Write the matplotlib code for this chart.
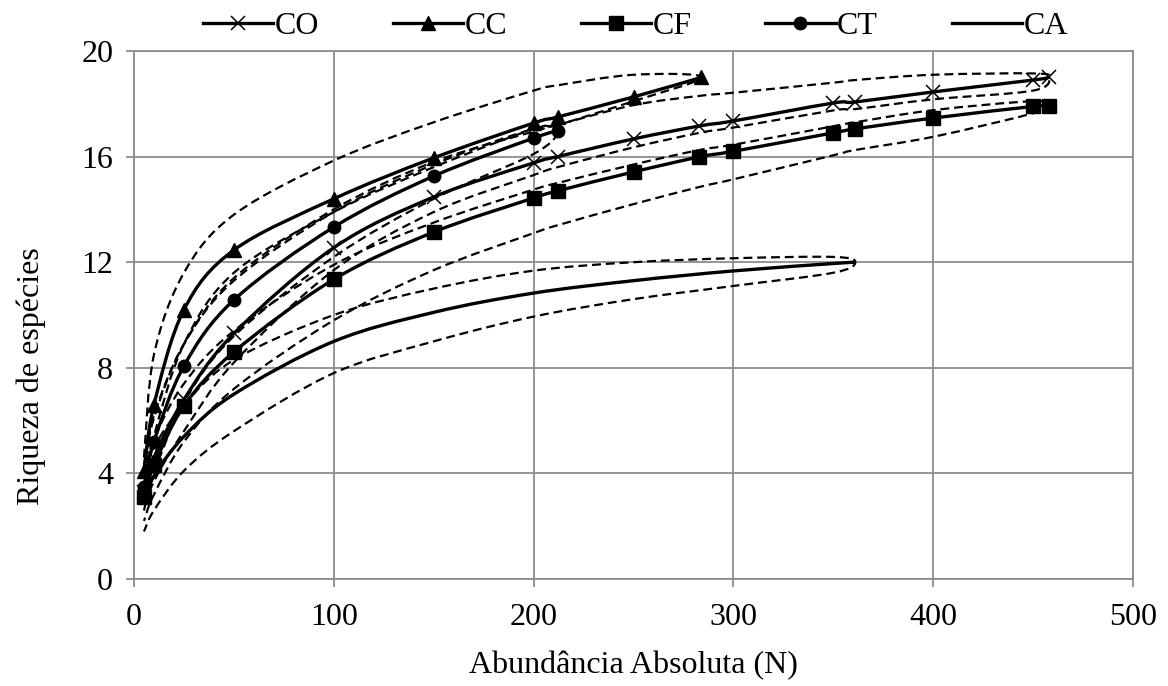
import numpy as np
import matplotlib
matplotlib.use("Agg")
import matplotlib.pyplot as plt
from matplotlib.path import Path
from matplotlib.patches import PathPatch
from matplotlib.lines import Line2D

plt.rcParams['font.family'] = ['Liberation Serif', 'DejaVu Serif']

# ---------------- data ----------------
CO_x = [5, 10, 25, 50, 100, 150, 200, 212, 250, 283, 300, 350, 361, 400, 450, 458]
CO_y = [3.3, 4.6, 6.8, 9.3, 12.55, 14.47, 15.76, 16.0, 16.67, 17.16, 17.35, 18.03, 18.07, 18.45, 18.9, 19.0]
CO_upper = [4.3, 6.2, 8.9, 11.4, 14.0, 15.8, 16.95, 17.2, 17.95, 18.3, 18.42, 18.8, 18.9, 19.1, 19.15]
CO_lower = [2.6, 3.7, 5.6, 8.2, 11.7, 13.9, 15.3, 15.6, 16.35, 16.9, 17.1, 17.75, 17.8, 18.17, 18.5]

CF_x = [5, 10, 25, 50, 100, 150, 200, 212, 250, 283, 300, 350, 361, 400, 450, 458]
CF_y = [3.1, 4.3, 6.55, 8.6, 11.35, 13.14, 14.43, 14.7, 15.42, 15.99, 16.2, 16.9, 17.05, 17.46, 17.9, 17.93]
CF_upper = [3.9, 5.3, 7.4, 9.4, 11.9, 13.5, 14.75, 15.0, 15.7, 16.25, 16.45, 17.15, 17.3, 17.76, 18.1]
CF_lower = [2.2, 3.2, 5.2, 7.2, 9.8, 11.7, 13.1, 13.4, 14.2, 14.85, 15.14, 16.05, 16.25, 16.75, 17.64]

CC_x = [5, 10, 25, 50, 100, 150, 200, 212, 250, 284]
CC_y = [4.1, 6.6, 10.2, 12.46, 14.4, 15.95, 17.27, 17.5, 18.26, 19.0]
CC_upper = [4.6, 8.5, 11.6, 13.8, 15.85, 17.3, 18.5, 18.7, 19.1]
CC_lower = [3.3, 5.4, 8.9, 11.6, 13.9, 15.6, 17.05, 17.2, 18.1]

CT_x = [5, 10, 25, 50, 100, 150, 200, 212]
CT_y = [3.5, 5.2, 8.07, 10.57, 13.33, 15.26, 16.7, 16.97]
CT_upper = [4.2, 6.1, 8.9, 11.3, 13.9, 15.7, 17.05]
CT_lower = [2.6, 4.0, 6.7, 9.2, 12.2, 14.4, 16.1]

CA_x = [5, 10, 25, 50, 100, 150, 200, 250, 300, 350, 361]
CA_y = [2.9, 3.9, 5.4, 7.0, 9.0, 10.1, 10.83, 11.3, 11.67, 11.95, 12.0]
CA_upper = [3.9, 5.0, 6.6, 8.3, 10.0, 11.0, 11.68, 12.0, 12.15, 12.2]
CA_lower = [1.8, 2.6, 4.1, 5.6, 7.8, 9.0, 9.94, 10.6, 11.1, 11.6]

series_names = ['CO', 'CC', 'CF', 'CT', 'CA']
x_ticks = [0, 100, 200, 300, 400, 500]
y_ticks = [0, 4, 8, 12, 16, 20]

FS = 23

# ---------------- figure ----------------
W, H = 1168, 686
fig = plt.figure(figsize=(W / 100, H / 100), dpi=100)
ax = fig.add_axes([134 / W, (H - 579) / H, 999 / W, 528 / H])
ax.set_xlim(0, 500)
ax.set_ylim(0, 20)
ax.set_xticks(x_ticks)
ax.set_yticks(y_ticks)
ax.grid(True, color='#8c8c8c', linewidth=1.3)
ax.set_axisbelow(True)
for s in ax.spines.values():
    s.set_color('#8c8c8c')
    s.set_linewidth(1.3)
ax.tick_params(axis='both', colors='#8c8c8c', length=6, width=1.3,
               labelcolor='black', labelsize=FS)
ax.tick_params(axis='x', pad=11)
ax.tick_params(axis='y', pad=9)
ax.set_xlabel('Abundância Absoluta (N)', fontsize=FS, labelpad=14)
ax.set_ylabel('Riqueza de espécies', fontsize=FS)
ax.yaxis.set_label_coords(-0.088, 0.385)


def smooth_path(xs, ys):
    """Excel-like smoothed curve (Catmull-Rom -> Bezier) computed in display space."""
    pts = ax.transData.transform(np.column_stack([xs, ys]))
    n = len(pts)
    verts = [pts[0]]
    codes = [Path.MOVETO]
    for i in range(n - 1):
        p0 = pts[i - 1] if i > 0 else pts[i]
        p1 = pts[i]
        p2 = pts[i + 1]
        p3 = pts[i + 2] if i + 2 < n else pts[i + 1]
        c1 = p1 + (p2 - p0) / 6.0
        c2 = p2 - (p3 - p1) / 6.0
        verts += [c1, c2, p2]
        codes += [Path.CURVE4] * 3
    verts = ax.transData.inverted().transform(np.array(verts))
    return Path(verts, codes)


def draw_curve(xs, ys, **kw):
    p = PathPatch(smooth_path(xs, ys), fill=False, capstyle='butt', **kw)
    ax.add_patch(p)


data = [
    ('CO', CO_x, CO_y, CO_upper, CO_lower, 'x'),
    ('CC', CC_x, CC_y, CC_upper, CC_lower, '^'),
    ('CF', CF_x, CF_y, CF_upper, CF_lower, 's'),
    ('CT', CT_x, CT_y, CT_upper, CT_lower, 'o'),
    ('CA', CA_x, CA_y, CA_upper, CA_lower, None),
]

for name, xs, ys, up, lo, mk in data:
    # confidence band as one dashed loop: upper forward, end point, lower backward
    cx = list(xs[:-1]) + [xs[-1]] + list(xs[:-1])[::-1]
    cy = list(up) + [ys[-1]] + list(lo)[::-1]
    draw_curve(cx, cy, edgecolor='black', linewidth=1.6, linestyle=(0, (4, 2.2)))

for name, xs, ys, up, lo, mk in data:
    draw_curve(xs, ys, edgecolor='black', linewidth=2.4)
    if mk is not None:
        if mk == 'x':
            ax.plot(xs, ys, linestyle='none', marker='x', color='black',
                    markersize=10, markeredgewidth=1.1, zorder=5)
        else:
            ax.plot(xs, ys, linestyle='none', marker=mk, color='black',
                    markersize=9.5 if mk != 'o' else 9, zorder=5)

# legend
handles = []
for name, xs, ys, up, lo, mk in data:
    if mk == 'x':
        h = Line2D([], [], color='black', lw=2.4, marker='x', markersize=10, markeredgewidth=1.1)
    elif mk is None:
        h = Line2D([], [], color='black', lw=2.4)
    else:
        h = Line2D([], [], color='black', lw=2.4, marker=mk, markersize=9.5 if mk != 'o' else 9)
    handles.append(h)

fig.legend(handles, series_names, loc='upper center', bbox_to_anchor=(0.544, 1.025),
           ncol=5, frameon=False, fontsize=FS, handlelength=2.2, handletextpad=0.05,
           columnspacing=2.3)

fig.savefig('out.png', dpi=100)
